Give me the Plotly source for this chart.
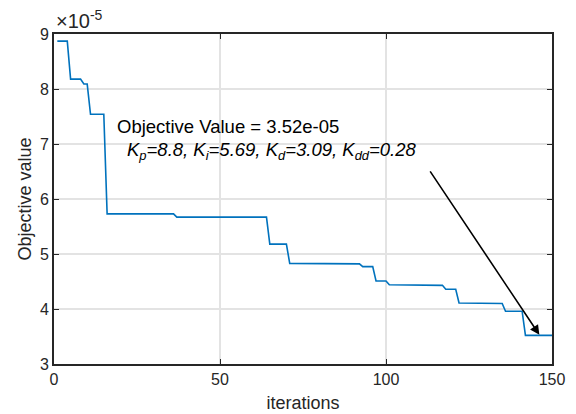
import plotly.graph_objects as go

# Step-wise best objective value per iteration (vertices of the polyline), units of 1e-5
iterations = [1, 4, 5, 8, 9, 10, 11, 15, 16, 36, 37, 64, 65, 70, 71, 87, 88, 92, 93, 96,
              97, 100, 101, 113, 114, 117, 118, 121, 122, 130, 131, 135, 136, 141, 142, 150]
objective = [8.87, 8.87, 8.18, 8.18, 8.09, 8.09, 7.54, 7.54, 5.73, 5.73, 5.67, 5.67, 5.18,
             5.18, 4.83, 4.83, 4.82, 4.82, 4.77, 4.77, 4.51, 4.51, 4.44, 4.44, 4.43, 4.43,
             4.36, 4.36, 4.11, 4.11, 4.10, 4.10, 3.96, 3.96, 3.52, 3.52]
objective = [v * 1e-5 for v in objective]

x_ticks = [0, 50, 100, 150]
y_ticks = [3, 4, 5, 6, 7, 8, 9]
y_tick_vals = [v * 1e-5 for v in y_ticks]
y_tick_text = [str(v) for v in y_ticks]

arrow_tail = (113, 6.53e-5)
arrow_tip = (146.2, 3.53e-5)

FONT = "Liberation Sans, Arial, sans-serif"
DARK = "#262626"

fig = go.Figure()
fig.add_trace(go.Scatter(x=iterations, y=objective, mode="lines",
                         line=dict(color="#0072BD", width=1.6), showlegend=False,
                         hoverinfo="skip"))

axis_common = dict(showline=True, linecolor=DARK, linewidth=2, mirror="ticks",
                   ticks="inside", ticklen=5, tickwidth=1, tickcolor=DARK,
                   showgrid=True, gridcolor="#e3e3e3", gridwidth=1.5, zeroline=False,
                   automargin=False,
                   tickfont=dict(family=FONT, size=16, color=DARK))

fig.update_xaxes(range=[0, 150], tickvals=x_ticks,
                 title=dict(text="iterations", font=dict(family=FONT, size=18, color=DARK),
                            standoff=9),
                 **axis_common)
fig.update_yaxes(range=[3e-5, 9e-5], tickvals=y_tick_vals, ticktext=y_tick_text,
                 title=dict(text="Objective value", font=dict(family=FONT, size=18, color=DARK),
                            standoff=4),
                 **axis_common)

fig.add_annotation(x=18.4, y=7.31e-5, xref="x", yref="y", xanchor="left", yanchor="middle",
                   text="Objective Value = 3.52e-05", showarrow=False,
                   font=dict(family=FONT, size=18.5, color="black"))
fig.add_annotation(x=21.5, y=6.87e-5, xref="x", yref="y", xanchor="left", yanchor="middle",
                   text="<i>K<sub>p</sub>=8.8, K<sub>i</sub>=5.69, K<sub>d</sub>=3.09, "
                        "K<sub>dd</sub>=0.28</i>",
                   showarrow=False, font=dict(family=FONT, size=18.5, color="black"))
fig.add_annotation(x=arrow_tip[0], y=arrow_tip[1], ax=arrow_tail[0], ay=arrow_tail[1],
                   xref="x", yref="y", axref="x", ayref="y", text="", showarrow=True,
                   arrowhead=2, arrowsize=1.2, arrowwidth=1.6, arrowcolor="black")
fig.add_annotation(x=0, y=1, xref="paper", yref="paper", xanchor="left", yanchor="bottom",
                   text="×10<sup>-5</sup>", showarrow=False, yshift=0,
                   font=dict(family=FONT, size=20, color=DARK))

fig.update_layout(width=576, height=414, margin=dict(l=54, r=24, t=34, b=50),
                  paper_bgcolor="white", plot_bgcolor="white")

fig.write_html("out.html")
